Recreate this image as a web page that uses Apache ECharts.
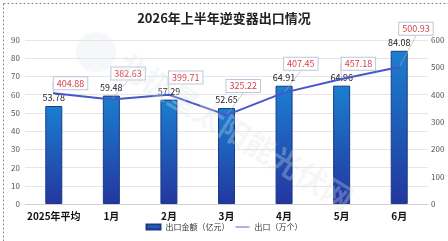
<!DOCTYPE html>
<html>
<head>
	<meta charset="UTF-8">
	<title>逆变器出口</title>
	<style>
		html,body{margin:0;padding:0;background:#fff;}
		#mychart{width:448px;height:241px;}
	</style>
</head>
<body>
<div id="mychart"></div>
<script src="https://cdn.jsdelivr.net/npm/echarts@6/dist/echarts.min.js"></script>
<script type="text/javascript">
	var categories = ['2025年平均','1月','2月','3月','4月','5月','6月'];
	var amountData = [53.78,59.48,57.29,52.65,64.91,64.96,84.08];   // 出口金额（亿元）
	var countData = [404.88,382.63,399.71,325.22,407.45,457.18,500.93]; // 出口（万个）
	var leftTicks = {min:0,max:90,interval:10};
	var rightTicks = {min:0,max:600,interval:100};

	var font = '"Noto Sans CJK SC", sans-serif';
	var gridTop = 40, gridBottom = 37, chartH = 241;
	var plotBottom = chartH - gridBottom, plotH = plotBottom - gridTop;

	var myChart = echarts.init(document.getElementById('mychart'));
	var option = {
		textStyle:{fontFamily:font},
		title:{
			text:'2026年上半年逆变器出口情况',
			left:'center',
			top:7,
			textStyle:{fontSize:13,fontWeight:'bold',color:'#222',fontFamily:font}
		},
		graphic:[
			{type:'rect',left:1,top:1,shape:{width:446,height:239},
			 style:{fill:'none',stroke:'#888',lineWidth:1,lineDash:[2,2]},z:100},
			{type:'circle',shape:{cx:96,cy:52,r:20},
			 style:{fill:'#e3e8ee',opacity:0.35},z:0},
			{type:'text',x:128,y:48,rotation:-0.55,
			 style:{text:'北极星太阳能光伏网',fill:'#dde1e6',opacity:0.3,
			 	font:'bold 30px "Noto Sans CJK SC"'},z:10}
		],
		legend:{
			bottom:5,
			left:'center',
			itemWidth:14,
			itemHeight:5,
			itemGap:6,
			textStyle:{fontSize:8,color:'#333'},
			data:[
				{name:'出口金额（亿元）',icon:'rect'},
				{name:'出口（万个）',icon:'path://M0,0L20,0L20,1.3L0,1.3Z'}
			]
		},
		grid:{top:gridTop,left:25,right:20,bottom:gridBottom},
		xAxis:{
			type:'category',
			data:categories,
			axisTick:{show:false},
			axisLine:{lineStyle:{color:'#d0d0d0'}},
			axisLabel:{fontSize:10,fontWeight:'bold',color:'#111',margin:7,interval:0}
		},
		yAxis:[
			{type:'value',min:leftTicks.min,max:leftTicks.max,interval:leftTicks.interval,
			 axisLabel:{fontSize:8,color:'#555',margin:5},
			 axisLine:{show:false},axisTick:{show:false},
			 splitLine:{lineStyle:{color:'#e6e6e6'}}},
			{type:'value',min:rightTicks.min,max:rightTicks.max,interval:rightTicks.interval,
			 axisLabel:{fontSize:8,color:'#555',margin:3},
			 axisLine:{show:false},axisTick:{show:false},
			 splitLine:{show:false}}
		],
		series:[
			{
				name:'出口金额（亿元）',
				type:'bar',
				barWidth:17,
				data:amountData,
				itemStyle:{
					color:new echarts.graphic.LinearGradient(0,0,0,1,[
						{offset:0,color:'#1a7fcf'},
						{offset:1,color:'#2436a0'}
					]),
					borderColor:'#1b3a86',
					borderWidth:1
				},
				label:{show:true,position:'top',distance:4,fontSize:9,color:'#222'},
				z:2
			},
			{
				name:'出口（万个）',
				type:'line',
				yAxisIndex:1,
				data:countData,
				symbol:'circle',
				symbolSize:2,
				color:'#4658c8',
				lineStyle:{width:2,color:'#4658c8'},
				label:{
					show:true,position:'top',fontSize:9,color:'#d8404a',
					backgroundColor:'#fff',borderColor:'#b9c8dc',borderWidth:1,
					padding:[2,3,1,3]
				},
				labelLine:{show:true,lineStyle:{color:'#aaa',width:0.6}},
				labelLayout:function(p){
					var i = p.dataIndex;
					var pointY = plotBottom - countData[i]/rightTicks.max*plotH;
					var barTop = plotBottom - amountData[i]/leftTicks.max*plotH;
					return {y:Math.min(pointY-10,barTop-22),verticalAlign:'middle'};
				},
				z:3
			}
		]
	};
	myChart.setOption(option);
	window.onresize = myChart.resize;
</script>
</body>
</html>
